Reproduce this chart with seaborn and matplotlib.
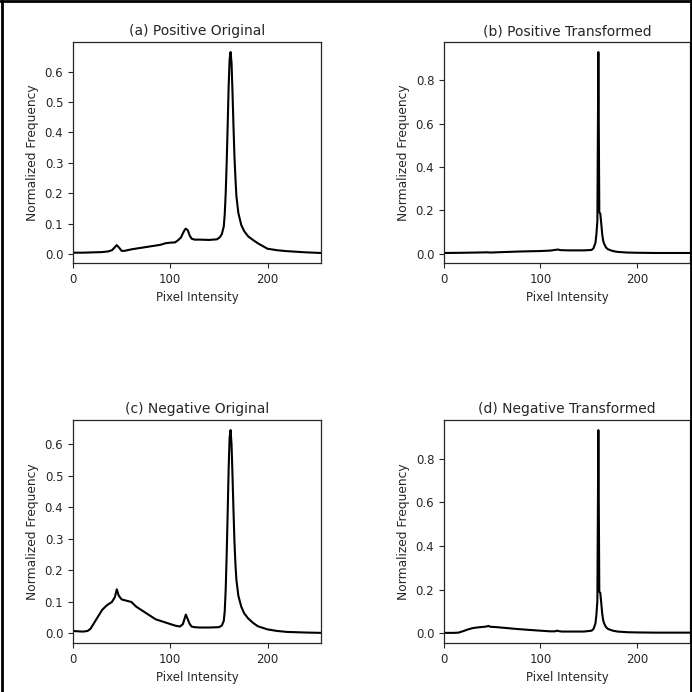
import matplotlib
matplotlib.use("Agg")
import matplotlib.pyplot as plt
from matplotlib.lines import Line2D
import seaborn as sns
import pandas as pd

# (a) positive original histogram
pos_orig_x = [0, 10, 20, 30, 36, 40, 43, 45, 47, 50, 53, 60, 70, 80, 90, 95, 100, 105, 108,
              111, 113, 115, 116, 118, 120, 122, 125, 130, 140, 148, 151, 153, 155, 156, 157,
              158, 159, 160, 161, 162, 163, 164, 165, 166, 167, 168, 170, 173, 176, 180, 185,
              190, 195, 200, 210, 220, 230, 240, 255]
pos_orig_y = [0.004, 0.004, 0.005, 0.006, 0.008, 0.012, 0.022, 0.029, 0.022, 0.01, 0.01, 0.015,
              0.02, 0.025, 0.03, 0.035, 0.037, 0.038, 0.045, 0.054, 0.068, 0.08, 0.083, 0.078,
              0.06, 0.05, 0.047, 0.047, 0.046, 0.048, 0.055, 0.065, 0.09, 0.13, 0.2, 0.3, 0.42,
              0.55, 0.64, 0.665, 0.63, 0.53, 0.42, 0.32, 0.25, 0.19, 0.135, 0.095, 0.075, 0.058,
              0.046, 0.035, 0.026, 0.017, 0.012, 0.009, 0.007, 0.005, 0.003]

# (b) positive transformed
pos_tr_x = [0, 20, 45, 48, 60, 80, 100, 110, 115, 118, 121, 130, 145, 153, 155, 157, 158, 159,
            160, 161, 162, 163, 164, 165, 166, 168, 170, 175, 180, 190, 200, 220, 255]
pos_tr_y = [0.003, 0.004, 0.006, 0.005, 0.007, 0.01, 0.012, 0.014, 0.017, 0.019, 0.016, 0.015,
            0.015, 0.017, 0.025, 0.05, 0.09, 0.15, 0.93, 0.19, 0.185, 0.14, 0.09, 0.06, 0.045,
            0.028, 0.02, 0.012, 0.008, 0.005, 0.004, 0.003, 0.003]

# (c) negative original
neg_orig_x = [0, 10, 15, 18, 20, 25, 30, 35, 40, 43, 45, 47, 50, 55, 60, 65, 75, 85, 95, 105,
              110, 113, 115, 116, 118, 120, 122, 125, 130, 140, 150, 153, 155, 156, 157, 158,
              159, 160, 161, 162, 163, 164, 165, 166, 167, 168, 170, 173, 176, 180, 185, 190,
              200, 210, 220, 240, 255]
neg_orig_y = [0.008, 0.006, 0.008, 0.015, 0.025, 0.05, 0.075, 0.09, 0.1, 0.115, 0.14, 0.12,
              0.108, 0.104, 0.1, 0.085, 0.065, 0.045, 0.035, 0.025, 0.022, 0.03, 0.05, 0.06,
              0.045, 0.03, 0.022, 0.02, 0.019, 0.019, 0.02, 0.025, 0.04, 0.07, 0.14, 0.25, 0.38,
              0.52, 0.62, 0.645, 0.6, 0.5, 0.39, 0.29, 0.22, 0.17, 0.12, 0.085, 0.064, 0.048,
              0.034, 0.023, 0.013, 0.008, 0.005, 0.003, 0.002]

# (d) negative transformed
neg_tr_x = [0, 10, 15, 20, 25, 30, 35, 40, 44, 46, 48, 55, 65, 75, 90, 100, 110, 115, 117,
            119, 122, 130, 145, 153, 155, 157, 158, 159, 160, 161, 162, 163, 164, 165, 166, 168,
            170, 175, 180, 190, 200, 220, 255]
neg_tr_y = [0.002, 0.002, 0.003, 0.01, 0.018, 0.024, 0.027, 0.029, 0.031, 0.034, 0.03, 0.028,
            0.024, 0.02, 0.015, 0.012, 0.009, 0.009, 0.012, 0.01, 0.008, 0.008, 0.008, 0.012,
            0.02, 0.045, 0.085, 0.15, 0.93, 0.19, 0.185, 0.14, 0.09, 0.06, 0.045, 0.028, 0.02,
            0.012, 0.008, 0.005, 0.004, 0.003, 0.003]

titles = ["(a) Positive Original", "(b) Positive Transformed",
          "(c) Negative Original", "(d) Negative Transformed"]
series = [(pos_orig_x, pos_orig_y), (pos_tr_x, pos_tr_y),
          (neg_orig_x, neg_orig_y), (neg_tr_x, neg_tr_y)]

sns.set_theme(style="ticks")
plt.rcParams["font.family"] = ["DejaVu Sans"]

fig = plt.figure(figsize=(6.92, 6.92), dpi=100)
positions = [
    [0.1055, 0.6199, 0.3584, 0.3194],
    [0.6416, 0.6199, 0.3555, 0.3194],
    [0.1055, 0.0708, 0.3584, 0.3223],
    [0.6416, 0.0708, 0.3555, 0.3223],
]

for pos, title, (xs, ys) in zip(positions, titles, series):
    ax = fig.add_axes(pos)
    df = pd.DataFrame({"Pixel Intensity": xs, "Normalized Frequency": ys})
    sns.lineplot(data=df, x="Pixel Intensity", y="Normalized Frequency",
                 color="black", linewidth=1.5, ax=ax)
    ax.set_xlim(0, 255)
    ax.set_xticks([0, 100, 200])
    ax.set_title(title, fontsize=10, pad=5)
    ax.set_xlabel("Pixel Intensity", fontsize=8.5)
    ax.set_ylabel("Normalized Frequency", fontsize=8.8)
    ax.tick_params(labelsize=8.5, length=3.5, width=0.8)
    for s in ax.spines.values():
        s.set_linewidth(0.9)

# screenshot frame around the figure
for xs, ys in [([0.003, 0.003], [0, 1]), ([0, 1], [0.998, 0.998]), ([0.998, 0.998], [0, 1])]:
    fig.add_artist(Line2D(xs, ys, transform=fig.transFigure, color="black", linewidth=2))

fig.savefig("out.png", dpi=100)
